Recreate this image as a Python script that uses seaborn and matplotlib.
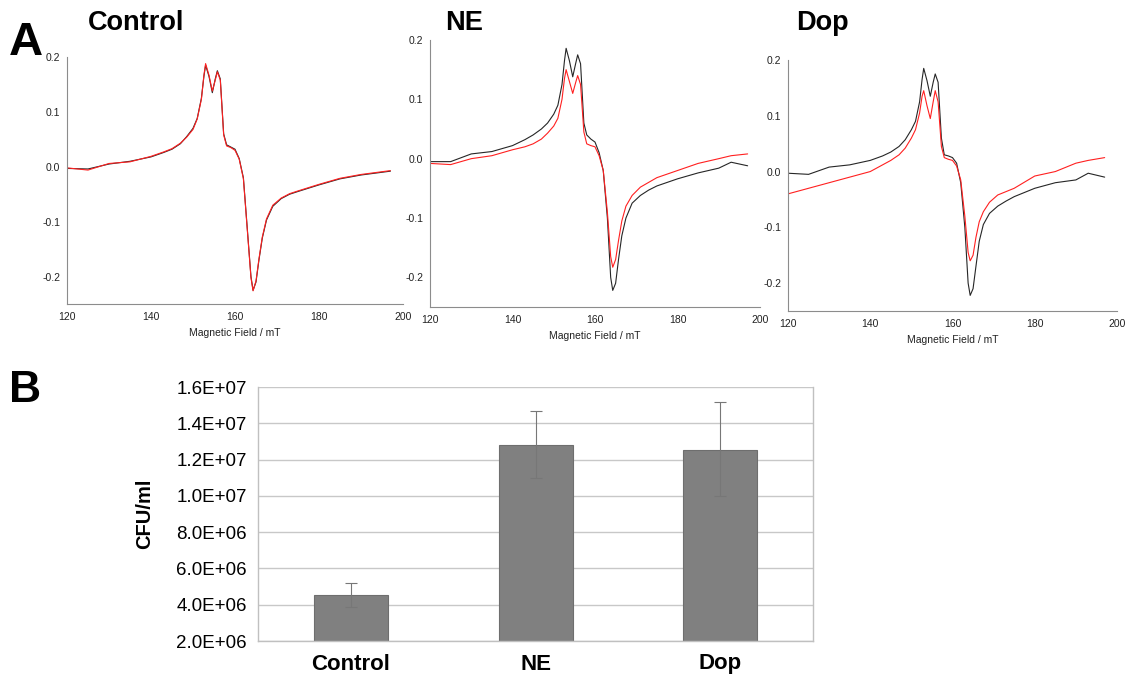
import matplotlib
matplotlib.use("Agg")
import matplotlib.pyplot as plt
import matplotlib.ticker as mticker
import seaborn as sns

sns.set_style("white")
plt.rcParams['font.family'] = ['Liberation Sans', 'DejaVu Sans']
plt.rcParams['text.color'] = 'black'
plt.rcParams['axes.labelcolor'] = 'black'
plt.rcParams['xtick.color'] = 'black'
plt.rcParams['ytick.color'] = 'black'

# ---- EPR spectra ----
field = [120, 125, 130, 135, 140, 143, 145, 147, 148.5, 150, 151, 152, 152.6, 153, 153.8,
         154.6, 155.3, 155.8, 156.5, 157.3, 158, 159, 160, 161, 162, 163, 163.8, 164.3,
         165, 165.7, 166.5, 167.5, 169, 171, 173, 175, 180, 185, 190, 193, 197]

ctrl_black = [-0.003, -0.004, 0.005, 0.010, 0.018, 0.026, 0.032, 0.042, 0.055, 0.070, 0.088,
              0.125, 0.165, 0.185, 0.165, 0.135, 0.160, 0.175, 0.160, 0.060, 0.040, 0.036,
              0.032, 0.015, -0.020, -0.120, -0.200, -0.225, -0.210, -0.170, -0.130, -0.097,
              -0.072, -0.058, -0.050, -0.045, -0.033, -0.022, -0.015, -0.012, -0.008]
ctrl_red = [-0.002, -0.006, 0.006, 0.009, 0.019, 0.027, 0.033, 0.043, 0.054, 0.068, 0.087,
            0.123, 0.167, 0.188, 0.167, 0.138, 0.158, 0.173, 0.158, 0.058, 0.038, 0.035,
            0.030, 0.014, -0.022, -0.122, -0.202, -0.226, -0.208, -0.168, -0.128, -0.095,
            -0.070, -0.057, -0.049, -0.044, -0.032, -0.021, -0.014, -0.011, -0.007]

ne_black = [-0.005, -0.005, 0.008, 0.012, 0.022, 0.032, 0.040, 0.050, 0.060, 0.075, 0.090,
            0.125, 0.165, 0.186, 0.165, 0.138, 0.160, 0.175, 0.160, 0.060, 0.040, 0.033,
            0.028, 0.010, -0.020, -0.100, -0.200, -0.222, -0.210, -0.170, -0.130, -0.100,
            -0.075, -0.062, -0.053, -0.046, -0.034, -0.024, -0.016, -0.006, -0.012]
ne_red = [-0.008, -0.010, 0.000, 0.005, 0.015, 0.020, 0.025, 0.033, 0.043, 0.055, 0.068,
          0.100, 0.135, 0.150, 0.130, 0.110, 0.128, 0.140, 0.125, 0.045, 0.025, 0.022,
          0.020, 0.005, -0.020, -0.090, -0.165, -0.183, -0.170, -0.138, -0.105, -0.080,
          -0.062, -0.048, -0.040, -0.032, -0.020, -0.008, 0.000, 0.005, 0.008]

dop_black = [-0.003, -0.005, 0.008, 0.012, 0.020, 0.028, 0.035, 0.045, 0.057, 0.075, 0.090,
             0.125, 0.165, 0.185, 0.163, 0.135, 0.160, 0.175, 0.160, 0.060, 0.030, 0.028,
             0.025, 0.015, -0.020, -0.100, -0.200, -0.222, -0.210, -0.170, -0.125, -0.095,
             -0.075, -0.062, -0.053, -0.045, -0.030, -0.020, -0.015, -0.003, -0.010]
dop_red = [-0.040, -0.030, -0.020, -0.010, 0.000, 0.012, 0.020, 0.030, 0.042, 0.060, 0.075,
           0.105, 0.135, 0.145, 0.118, 0.095, 0.125, 0.145, 0.125, 0.045, 0.025, 0.022,
           0.020, 0.010, -0.015, -0.080, -0.145, -0.160, -0.150, -0.118, -0.090, -0.072,
           -0.055, -0.042, -0.036, -0.030, -0.008, 0.000, 0.015, 0.020, 0.025]

# ---- CFU counts ----
groups = ["Control", "NE", "Dop"]
cfu = [4.52e6, 1.283e7, 1.255e7]
err_low = [0.62e6, 1.83e6, 2.55e6]
err_high = [0.70e6, 1.87e6, 2.65e6]

fig = plt.figure(figsize=(11.3, 6.77), dpi=100)
W, H = 1130, 677


def px_axes(left, right, top, bottom):
    return fig.add_axes([left / W, 1 - bottom / H, (right - left) / W, (bottom - top) / H])


def epr_panel(ax, black, red):
    sns.lineplot(x=field, y=black, ax=ax, color='#262626', linewidth=0.8)
    sns.lineplot(x=field, y=red, ax=ax, color='#ff2020', linewidth=0.8)
    ax.set_xlim(120, 200)
    ax.set_ylim(-0.25, 0.2)
    ax.xaxis.set_major_locator(mticker.MultipleLocator(20))
    ax.xaxis.set_minor_locator(mticker.MultipleLocator(10))
    ax.yaxis.set_major_locator(mticker.MultipleLocator(0.1))
    ax.yaxis.set_minor_locator(mticker.MultipleLocator(0.05))
    ax.yaxis.set_major_formatter(mticker.FormatStrFormatter('%.1f'))
    for s in ['top', 'right']:
        ax.spines[s].set_visible(False)
    for s in ['left', 'bottom']:
        ax.spines[s].set_color('#8c8c8c')
        ax.spines[s].set_linewidth(0.8)
    ax.tick_params(axis='x', which='both', direction='in', length=3, width=0.7,
                   color='#8c8c8c', labelsize=7.5, labelcolor='#222222', pad=6)
    ax.tick_params(axis='y', which='both', direction='out', length=3, width=0.7,
                   color='#8c8c8c', labelsize=7.5, labelcolor='#222222', pad=2)
    ax.set_xlabel("Magnetic Field / mT", fontsize=7.5, color='#222222', labelpad=4)
    ax.set_ylabel("")
    ax.patch.set_alpha(0)


ax1 = px_axes(67, 403, 57, 304)
epr_panel(ax1, ctrl_black, ctrl_red)
ax2 = px_axes(430, 760, 40, 307)
epr_panel(ax2, ne_black, ne_red)
ax3 = px_axes(788, 1117, 60, 311)
epr_panel(ax3, dop_black, dop_red)

fig.text(88 / W, 1 - 23 / H, "Control", ha='left', va='center', fontsize=19.5, weight='bold')
fig.text(445 / W, 1 - 23 / H, "NE", ha='left', va='center', fontsize=19.5, weight='bold')
fig.text(796 / W, 1 - 23 / H, "Dop", ha='left', va='center', fontsize=19.5, weight='bold')
fig.text(9 / W, 1 - 43 / H, "A", ha='left', va='center', fontsize=34, weight='bold')
fig.text(9 / W, 1 - 390 / H, "B", ha='left', va='center', fontsize=32, weight='bold')

# ---- Panel B bar chart ----
axb = px_axes(258, 813, 387, 641)
sns.barplot(x=groups, y=cfu, ax=axb, color='#808080', width=0.4,
            edgecolor='#6e6e6e', linewidth=0.8, saturation=1)
axb.errorbar(range(len(groups)), cfu, yerr=[err_low, err_high], fmt='none',
             ecolor='#777777', elinewidth=0.8, capsize=4, capthick=0.8)
axb.set_ylim(2e6, 1.6e7)
axb.set_xlim(-0.5, 2.5)
axb.yaxis.set_major_locator(mticker.MultipleLocator(2e6))
axb.yaxis.set_major_formatter(mticker.FuncFormatter(lambda v, p: f"{v:.1E}"))
axb.grid(axis='y', color='#c8c8c8', linewidth=1)
axb.set_axisbelow(True)
axb.spines['top'].set_visible(False)
for s in ['left', 'right', 'bottom']:
    axb.spines[s].set_color('#c0c0c0')
    axb.spines[s].set_linewidth(1)
axb.tick_params(axis='y', direction='out', length=5, color='#c0c0c0', labelsize=13.5, pad=3)
axb.set_xticks([0, 1, 2])
axb.set_xticklabels(groups, fontsize=16, weight='bold')
axb.tick_params(axis='x', length=0, pad=9)
axb.set_xticks([0.5, 1.5], minor=True)
axb.tick_params(axis='x', which='minor', direction='out', length=6, color='#c0c0c0')
axb.set_ylabel("CFU/ml", fontsize=14.5, weight='bold', labelpad=16)
axb.set_xlabel("")

fig.savefig("out.png", dpi=100)
